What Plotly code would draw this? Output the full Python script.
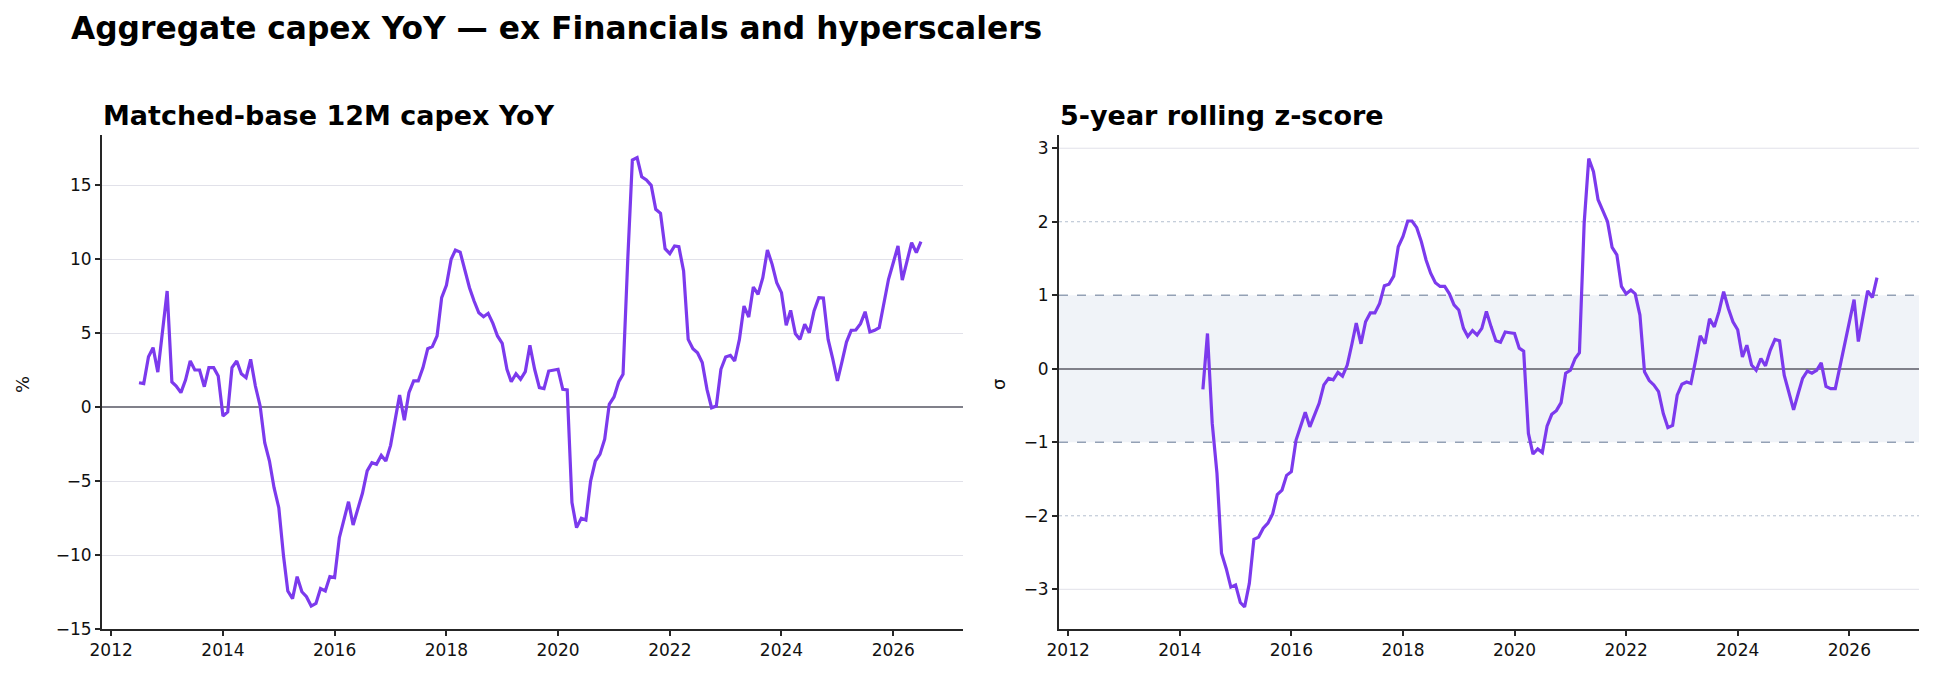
import pandas as pd
import plotly.graph_objects as go

# ---------------- data ----------------
yoy_start = "2012-07-01"
yoy_values = [
    1.64, 1.58, 3.40, 4.01, 2.36, 5.02, 7.84, 1.69, 1.42, 0.97, 1.82, 3.11,
    2.50, 2.50, 1.37, 2.66, 2.66, 2.09, -0.61, -0.34, 2.66, 3.11, 2.25, 1.98,
    3.22, 1.42, 0.07, -2.41, -3.65, -5.45, -6.80, -10.07, -12.43, -12.95, -11.46, -12.48,
    -12.82, -13.45, -13.27, -12.27, -12.43, -11.46, -11.53, -8.83, -7.59, -6.40, -7.97, -6.91,
    -5.83, -4.32, -3.76, -3.87, -3.27, -3.65, -2.59, -0.80, 0.81, -0.90, 0.97, 1.76,
    1.76, 2.66, 3.94, 4.08, 4.80, 7.39, 8.22, 9.98, 10.61, 10.47, 9.30, 8.06,
    7.16, 6.37, 6.10, 6.33, 5.65, 4.80, 4.30, 2.55, 1.71, 2.25, 1.87, 2.39,
    4.17, 2.55, 1.31, 1.24, 2.43, 2.48, 2.55, 1.19, 1.15, -6.46, -8.15, -7.52,
    -7.64, -5.00, -3.65, -3.20, -2.18, 0.18, 0.68, 1.71, 2.21, 10.00, 16.69, 16.85,
    15.56, 15.34, 14.98, 13.36, 13.09, 10.70, 10.36, 10.88, 10.83, 9.19, 4.57, 3.94,
    3.67, 3.00, 1.19, -0.05, 0.07, 2.55, 3.38, 3.49, 3.11, 4.57, 6.82, 6.08,
    8.11, 7.61, 8.74, 10.61, 9.64, 8.40, 7.73, 5.52, 6.53, 4.95, 4.57, 5.59,
    5.02, 6.49, 7.39, 7.36, 4.57, 3.27, 1.76, 3.11, 4.39, 5.18, 5.20, 5.63,
    6.44, 5.07, 5.18, 5.36, 7.05, 8.63, 9.75, 10.88, 8.58, 9.98, 11.10, 10.43,
    11.17,
]

z_start = "2014-06-01"
z_values = [
    -0.28, 0.48, -0.74, -1.42, -2.51, -2.72, -2.97, -2.94, -3.18, -3.24, -2.92, -2.32,
    -2.29, -2.17, -2.10, -1.97, -1.71, -1.65, -1.45, -1.40, -0.97, -0.79, -0.59, -0.79,
    -0.63, -0.47, -0.22, -0.13, -0.15, -0.05, -0.10, 0.05, 0.34, 0.62, 0.34, 0.64,
    0.76, 0.76, 0.89, 1.13, 1.15, 1.26, 1.66, 1.80, 2.01, 2.01, 1.92, 1.73,
    1.48, 1.30, 1.17, 1.12, 1.12, 1.02, 0.87, 0.80, 0.55, 0.44, 0.52, 0.46,
    0.55, 0.78, 0.57, 0.38, 0.36, 0.50, 0.49, 0.48, 0.28, 0.24, -0.88, -1.16,
    -1.09, -1.14, -0.78, -0.62, -0.57, -0.46, -0.06, -0.02, 0.14, 0.22, 1.98, 2.86,
    2.68, 2.30, 2.15, 2.00, 1.65, 1.55, 1.12, 1.02, 1.07, 1.02, 0.73, -0.04,
    -0.16, -0.22, -0.31, -0.61, -0.80, -0.77, -0.36, -0.21, -0.18, -0.20, 0.12, 0.45,
    0.34, 0.68, 0.57, 0.78, 1.05, 0.82, 0.64, 0.53, 0.16, 0.32, 0.05, -0.02,
    0.14, 0.04, 0.25, 0.40, 0.38, -0.09, -0.32, -0.56, -0.33, -0.13, -0.03, -0.06,
    -0.02, 0.08, -0.24, -0.27, -0.27, 0.03, 0.34, 0.64, 0.94, 0.37, 0.71, 1.06,
    0.97, 1.24,
]

main_title = "Aggregate capex YoY \u2014 ex Financials and hyperscalers"
left_title = "Matched-base 12M capex YoY"
right_title = "5-year rolling z-score"
left_ylabel = "%"
right_ylabel = "\u03c3"

band_lo, band_hi = -1, 1
dotted_levels = [-2, 2]
z_grid_levels = [-3, 3]

yoy_dates = pd.date_range(yoy_start, periods=len(yoy_values), freq="MS")
z_dates = pd.date_range(z_start, periods=len(z_values), freq="MS")

# ---------------- figure ----------------
W, H = 1934, 679
FONT = "DejaVu Sans"
LINE = "#7c3aed"
AX = "#262626"
GRID = "#e1e1e9"
ZERO = "#80808a"


def px_x(p):
    return p / W


def px_y(p):
    return 1 - p / H


fig = go.Figure()
fig.add_trace(go.Scatter(x=yoy_dates, y=yoy_values, mode="lines",
                         line=dict(color=LINE, width=3.2), xaxis="x", yaxis="y",
                         showlegend=False))
fig.add_trace(go.Scatter(x=z_dates, y=z_values, mode="lines",
                         line=dict(color=LINE, width=3.2), xaxis="x2", yaxis="y2",
                         showlegend=False))

xrange = ["2011-11-02", "2027-04-02"]
tickfont = dict(family=FONT, size=17, color="#111111")
common_x = dict(type="date", range=xrange, tick0="2012-01-01", dtick="M24",
                tickformat="%Y", showgrid=False, zeroline=False, automargin=False,
                showline=True, linecolor=AX, linewidth=1.8,
                ticks="outside", ticklen=5, tickwidth=1.5, tickcolor=AX,
                tickfont=tickfont)
common_y = dict(zeroline=True, zerolinecolor=ZERO, zerolinewidth=1.8,
                automargin=False,
                showline=True, linecolor=AX, linewidth=1.8,
                ticks="outside", ticklen=5, tickwidth=1.5, tickcolor=AX,
                tickfont=tickfont)

fig.update_layout(
    template="none",
    width=W, height=H,
    margin=dict(l=0, r=0, t=0, b=0, pad=0, autoexpand=False),
    paper_bgcolor="white", plot_bgcolor="white",
    showlegend=False,
    xaxis=dict(domain=[px_x(102), px_x(963)], anchor="y", **common_x),
    yaxis=dict(domain=[px_y(629), px_y(135)], anchor="x", range=[-15, 18.38],
               tick0=0, dtick=5, showgrid=True, gridcolor=GRID, gridwidth=1,
               **common_y),
    xaxis2=dict(domain=[px_x(1059), px_x(1919)], anchor="y2", **common_x),
    yaxis2=dict(domain=[px_y(629), px_y(135)], anchor="x2", range=[-3.54, 3.18],
                tick0=0, dtick=1, showgrid=False, **common_y),
    font=dict(family=FONT, color="#111111"),
)

# band and reference lines on the z-score panel (all beneath the series)
fig.add_shape(type="rect", xref="x2 domain", yref="y2", x0=0, x1=1,
              y0=band_lo, y1=band_hi, fillcolor="#f0f3f8", line_width=0,
              layer="below")
for lv in z_grid_levels:
    fig.add_shape(type="line", xref="x2 domain", yref="y2", x0=0, x1=1,
                  y0=lv, y1=lv, line=dict(color=GRID, width=1), layer="below")
for lv in dotted_levels:
    fig.add_shape(type="line", xref="x2 domain", yref="y2", x0=0, x1=1,
                  y0=lv, y1=lv, line=dict(color="#b4bfcf", width=1, dash="dot"),
                  layer="below")
for lv in (band_lo, band_hi):
    fig.add_shape(type="line", xref="x2 domain", yref="y2", x0=0, x1=1,
                  y0=lv, y1=lv, line=dict(color="#94a1b5", width=1.4, dash="dash"),
                  layer="below")

# titles
fig.add_annotation(text="<b>" + main_title + "</b>", xref="paper", yref="paper",
                   x=px_x(69), y=px_y(28), xanchor="left", yanchor="middle",
                   showarrow=False, font=dict(family=FONT, size=31.3, color="#000000"))
fig.add_annotation(text="<b>" + left_title + "</b>", xref="paper", yref="paper",
                   x=px_x(101), y=px_y(115), xanchor="left", yanchor="middle",
                   showarrow=False, font=dict(family=FONT, size=27, color="#000000"))
fig.add_annotation(text="<b>" + right_title + "</b>", xref="paper", yref="paper",
                   x=px_x(1058), y=px_y(115), xanchor="left", yanchor="middle",
                   showarrow=False, font=dict(family=FONT, size=27, color="#000000"))
fig.add_annotation(text=left_ylabel, xref="paper", yref="paper",
                   x=px_x(22), y=px_y(385), xanchor="center", yanchor="middle",
                   textangle=-90, showarrow=False,
                   font=dict(family=FONT, size=18, color="#111111"))
fig.add_annotation(text=right_ylabel, xref="paper", yref="paper",
                   x=px_x(998), y=px_y(385), xanchor="center", yanchor="middle",
                   textangle=-90, showarrow=False,
                   font=dict(family=FONT, size=18, color="#111111"))

fig.write_html("out.html")
